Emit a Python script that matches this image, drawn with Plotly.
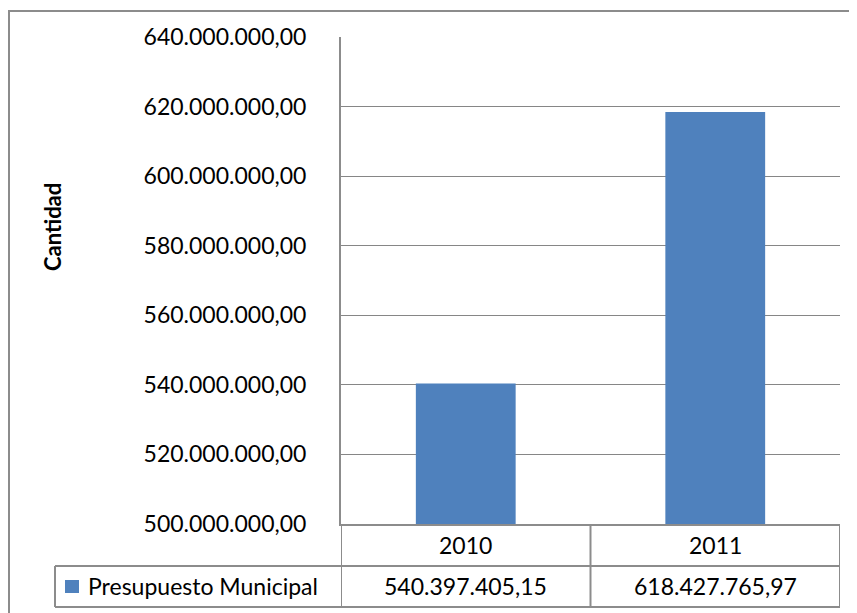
import plotly.graph_objects as go

categories = ["2010", "2011"]
series_name = "Presupuesto Municipal"
values = [540397405.15, 618427765.97]
value_labels = ["540.397.405,15", "618.427.765,97"]
y_ticks = [500e6, 520e6, 540e6, 560e6, 580e6, 600e6, 620e6, 640e6]
y_tick_labels = ["500.000.000,00", "520.000.000,00", "540.000.000,00", "560.000.000,00",
                 "580.000.000,00", "600.000.000,00", "620.000.000,00", "640.000.000,00"]
y_title = "Cantidad"

# page body has an 8px default margin; compensate
OFF = 8
W, H = 857 - OFF, 613 - OFF
L, R, T, B = 341 - OFF, 17, 37 - OFF, 89
pw, ph = W - L - R, H - T - B

def px(x):
    return (x - OFF - L) / pw

def py(y):
    return (H - B - (y - OFF)) / ph

FONT = "Lato"
GRID = "#868686"
BORDER = "#8c8c8c"
BAR = "#4F81BD"

fig = go.Figure()
fig.add_trace(go.Bar(x=list(range(len(categories))), y=values, name=series_name,
                     marker=dict(color=BAR, line=dict(width=0)), width=0.4,
                     showlegend=False))

shapes = []
line = dict(color=BORDER, width=2)
# outer chart border (left and top)
shapes.append(dict(type="line", xref="paper", yref="paper", x0=px(9), x1=px(9), y0=py(11), y1=py(640), line=line))
shapes.append(dict(type="line", xref="paper", yref="paper", x0=px(8), x1=px(857), y0=py(11), y1=py(11), line=line))
# data table horizontal lines
n = len(categories)
for yy in [566, 607]:
    shapes.append(dict(type="line", xref="paper", yref="paper", x0=px(55), x1=1, y0=py(yy), y1=py(yy), line=line))
# table verticals
shapes.append(dict(type="line", xref="paper", yref="paper", x0=px(55), x1=px(55), y0=py(566), y1=py(607), line=line))
for i in range(n + 1):
    xv = i - 0.5
    shapes.append(dict(type="line", xref="x", yref="paper", x0=xv, x1=xv, y0=0, y1=py(607), line=line))
# legend key
shapes.append(dict(type="rect", xref="paper", yref="paper", x0=px(65), x1=px(79), y0=py(593), y1=py(580),
                   fillcolor=BAR, line=dict(width=0)))

annotations = []
for i, (c, v) in enumerate(zip(categories, value_labels)):
    annotations.append(dict(x=i, y=py(545), xref="x", yref="paper", text=c, showarrow=False,
                            font=dict(family=FONT, size=23, color="black"), xanchor="center", yanchor="middle"))
    annotations.append(dict(x=i, y=py(586.5), xref="x", yref="paper", text=v, showarrow=False,
                            font=dict(family=FONT, size=23, color="black"), xanchor="center", yanchor="middle"))
annotations.append(dict(x=px(86), y=py(586.5), xref="paper", yref="paper", text=series_name, showarrow=False,
                        font=dict(family=FONT, size=23, color="black"), xanchor="left", yanchor="middle"))
annotations.append(dict(x=px(52), y=py(227), xref="paper", yref="paper", text="<b>" + y_title + "</b>",
                        showarrow=False, textangle=-90,
                        font=dict(family=FONT, size=22, color="black"), xanchor="center", yanchor="middle"))

fig.update_layout(
    width=W, height=H,
    margin=dict(l=L, r=R, t=T, b=B, pad=0),
    paper_bgcolor="white", plot_bgcolor="white",
    shapes=shapes, annotations=annotations,
    xaxis=dict(range=[-0.5, n - 0.5], showticklabels=False, showgrid=False, zeroline=False,
               showline=True, linecolor=BORDER, linewidth=2, ticks=""),
    yaxis=dict(range=[500e6, 640e6], tickvals=y_ticks, ticktext=y_tick_labels,
               showgrid=True, gridcolor=GRID, gridwidth=1, zeroline=False,
               showline=True, linecolor=BORDER, linewidth=2, ticks="",
               ticklabelstandoff=28,
               tickfont=dict(family=FONT, size=23, color="black")),
)

fig.write_html("out.html")
